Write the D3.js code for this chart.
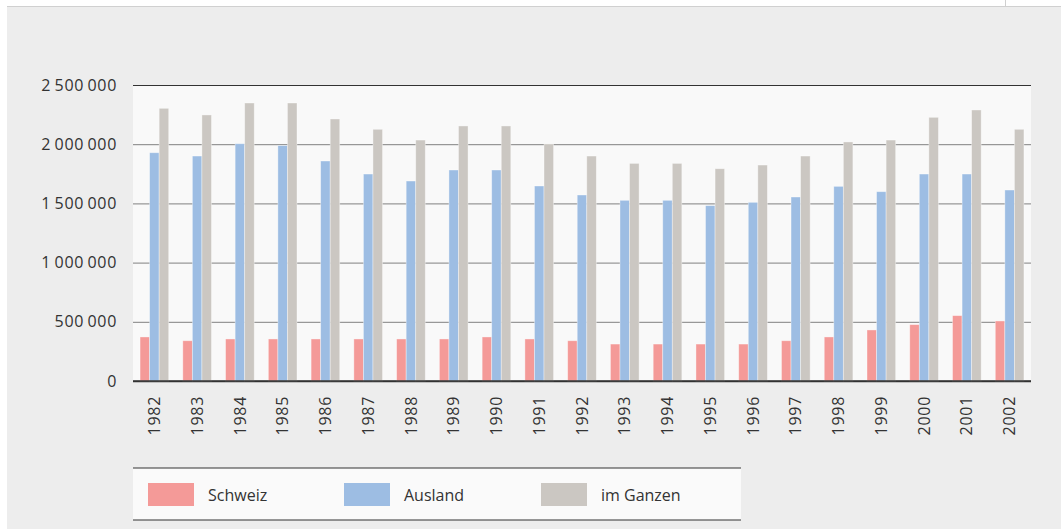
<!DOCTYPE html>
<html>
<head>
<meta charset="utf-8">
<script src="https://cdn.jsdelivr.net/npm/d3@7"></script>
<style>
  html, body { margin: 0; padding: 0; background: #fff; }
  svg { display: block; font-family: "Open Sans", sans-serif; }
</style>
</head>
<body>
<svg id="chart" width="1061" height="529"></svg>
<script>
var years = ["1982","1983","1984","1985","1986","1987","1988","1989","1990","1991","1992",
             "1993","1994","1995","1996","1997","1998","1999","2000","2001","2002"];
var seriesNames = ["Schweiz", "Ausland", "im Ganzen"];
var schweiz = [372000, 340000, 355000, 355000, 355000, 355000, 355000, 355000, 372000, 355000, 340000,
               312000, 312000, 312000, 312000, 340000, 372000, 431000, 476000, 552000, 507000];
var ausland = [1928000, 1900000, 2004000, 1988000, 1858000, 1748000, 1689000, 1782000, 1782000, 1647000, 1571000,
               1526000, 1526000, 1481000, 1509000, 1554000, 1644000, 1599000, 1748000, 1748000, 1613000];
var imGanzen = [2303000, 2247000, 2348000, 2348000, 2213000, 2126000, 2035000, 2154000, 2154000, 2002000, 1900000,
                1838000, 1838000, 1793000, 1824000, 1900000, 2019000, 2035000, 2227000, 2289000, 2126000];
var yTicks = [0, 500000, 1000000, 1500000, 2000000, 2500000];
var colors = ["#f49a98", "#9dbde3", "#cbc7c2"];

var svg = d3.select("#chart");

// page frame
svg.append("rect").attr("x", 7).attr("y", 6).attr("width", 1054).attr("height", 523).attr("fill", "#ededed");
svg.append("line").attr("x1", 7).attr("x2", 1061).attr("y1", 6.5).attr("y2", 6.5)
  .attr("stroke", "#d0d0d0").attr("stroke-width", 1);
svg.append("line").attr("x1", 1005.5).attr("x2", 1005.5).attr("y1", 0).attr("y2", 6)
  .attr("stroke", "#d0d0d0").attr("stroke-width", 1);

var x = d3.scaleBand().domain(years).range([133, 1031]).paddingInner(0.33).paddingOuter(0.165);
var xs = d3.scaleBand().domain(seriesNames).range([0, x.bandwidth()]);
var y = d3.scaleLinear().domain([0, 2500000]).range([381, 85]);

var fmt = d3.formatLocale({decimal: ".", thousands: "\u2009", grouping: [3], currency: ["", ""]}).format(",");

// plot background
svg.append("rect").attr("x", 133).attr("y", y(2500000)).attr("width", 898).attr("height", y(0) - y(2500000))
  .attr("fill", "#f9f9f9");

// grid lines
var yAxis = svg.append("g").attr("transform", "translate(133,0)")
  .call(d3.axisLeft(y).tickValues(yTicks).tickSize(-898).tickPadding(16).tickFormat(fmt));
yAxis.select(".domain").remove();
yAxis.selectAll(".tick line")
  .attr("stroke", function(d) { return d === 0 || d === 2500000 ? "#333" : "#808080"; })
  .attr("stroke-width", function(d) { return d === 0 ? 1.5 : 1; });
yAxis.selectAll(".tick text").attr("fill", "#333").style("font-size", "16px")
  .style("letter-spacing", "0.7px").style("font-family", "Open Sans");

// bars
var table = years.map(function(yr, i) {
  return {year: yr, values: [schweiz[i], ausland[i], imGanzen[i]]};
});
var groups = svg.append("g").selectAll("g").data(table).join("g")
  .attr("transform", function(d) { return "translate(" + x(d.year) + ",0)"; });
groups.selectAll("rect").data(function(d) {
    return d.values.map(function(v, k) { return {name: seriesNames[k], value: v, k: k}; });
  }).join("rect")
  .attr("x", function(d) { return xs(d.name); })
  .attr("width", xs.bandwidth())
  .attr("y", function(d) { return y(d.value); })
  .attr("height", function(d) { return y(0) - y(d.value); })
  .attr("fill", function(d) { return colors[d.k]; })
  .attr("stroke", "rgba(255,255,255,0.45)")
  .attr("stroke-width", 0.8);

// redraw zero axis on top
svg.append("line").attr("x1", 133).attr("x2", 1031).attr("y1", y(0)).attr("y2", y(0))
  .attr("stroke", "#333").attr("stroke-width", 1.5);

// x labels
var xAxis = svg.append("g").attr("transform", "translate(0," + y(0) + ")")
  .call(d3.axisBottom(x).tickSize(0).tickPadding(0));
xAxis.select(".domain").remove();
xAxis.selectAll(".tick text")
  .attr("transform", "rotate(-90)")
  .attr("x", -15).attr("y", 0).attr("dy", "0.35em")
  .attr("text-anchor", "end")
  .attr("fill", "#333").style("font-size", "16px").style("letter-spacing", "0.7px")
  .style("font-family", "Open Sans");

// legend
var legend = svg.append("g");
legend.append("rect").attr("x", 133).attr("y", 468).attr("width", 608).attr("height", 52).attr("fill", "#fafafa");
legend.append("line").attr("x1", 133).attr("x2", 741).attr("y1", 468).attr("y2", 468).attr("stroke", "#333");
legend.append("line").attr("x1", 133).attr("x2", 741).attr("y1", 520).attr("y2", 520).attr("stroke", "#333");
var legendX = d3.scaleOrdinal().domain(seriesNames).range([148, 344, 541]);
var items = legend.selectAll("g.item").data(seriesNames).join("g").attr("class", "item")
  .attr("transform", function(d) { return "translate(" + legendX(d) + ",483)"; });
items.append("rect").attr("width", 46).attr("height", 23)
  .attr("fill", function(d, i) { return colors[i]; });
items.append("text").attr("x", 60).attr("y", 12).attr("dy", "0.35em")
  .attr("fill", "#333").style("font-size", "16px")
  .text(function(d) { return d; });
</script>
</body>
</html>
